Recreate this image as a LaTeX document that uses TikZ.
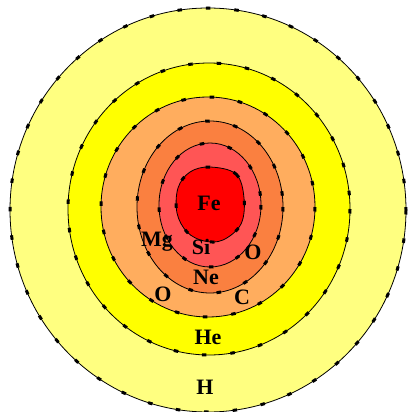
\documentclass[tikz,border=0pt]{standalone}
\usepackage{fontspec}
\setmainfont{Liberation Serif}
\definecolor{hcol}{HTML}{FFFF80}
\definecolor{hecol}{HTML}{FFFF00}
\definecolor{cocol}{HTML}{FFAD5E}
\definecolor{necol}{HTML}{FA8040}
\definecolor{sicol}{HTML}{FF5555}
\definecolor{fecol}{HTML}{FF0000}
\tikzset{
  layer/.style={draw=black, line width=0.8pt},
  ticks/.style={draw=black, line width=3pt, dash pattern=on 4.5pt off 24pt},
  elem/.style={font=\bfseries\fontsize{22}{22}\selectfont, inner sep=0pt},
}
\begin{document}
\begin{tikzpicture}[x=1pt,y=-1pt]
\useasboundingbox (0,0) rectangle (409,412);
\fill[white] (0,0) rectangle (409,412);

% hydrogen envelope
\path[layer, fill=hcol] (208,210) ellipse [x radius=198, y radius=202];
\path[ticks] (208,210) ellipse [x radius=198, y radius=202];

% helium shell
\path[layer, fill=hecol] (209,209) ellipse [x radius=141, y radius=146];
\path[ticks] (209,209) ellipse [x radius=141, y radius=146];

% carbon / oxygen shell
\path[layer, fill=cocol] (208,207) ellipse [x radius=107, y radius=110];
\path[ticks] (208,207) ellipse [x radius=107, y radius=110];

% neon shell
\path[layer, fill=necol] (210,207) ellipse [x radius=73, y radius=86];
\path[ticks] (210,207) ellipse [x radius=73, y radius=86];

% silicon shell
\path[layer, fill=sicol] (210,205) ellipse [x radius=51, y radius=62];
\path[ticks] (210,205) ellipse [x radius=51, y radius=62];

% iron core
\path[layer, fill=fecol] plot[smooth cycle, tension=0.6] coordinates
  {(210,167) (236,174) (244,198) (241,224) (223,240) (204,241) (187,232) (177,213) (178,188) (190,172)};
\path[ticks] plot[smooth cycle, tension=0.6] coordinates
  {(210,167) (236,174) (244,198) (241,224) (223,240) (204,241) (187,232) (177,213) (178,188) (190,172)};

% labels
\node[elem] (fe) at (209,203) {Fe};
\node[elem] (mg) at (157,242) {Mg};
\node[elem] (si) at (201,247) {Si};
\node[elem] (oin) at (253,252) {O};
\node[elem] (ne) at (206,277) {Ne};
\node[elem] (oout) at (163,294) {O};
\node[elem] (c) at (242,297) {C};
\node[elem] (he) at (208,337) {He};
\node[elem] (h) at (205,387) {H};
\end{tikzpicture}
\end{document}
